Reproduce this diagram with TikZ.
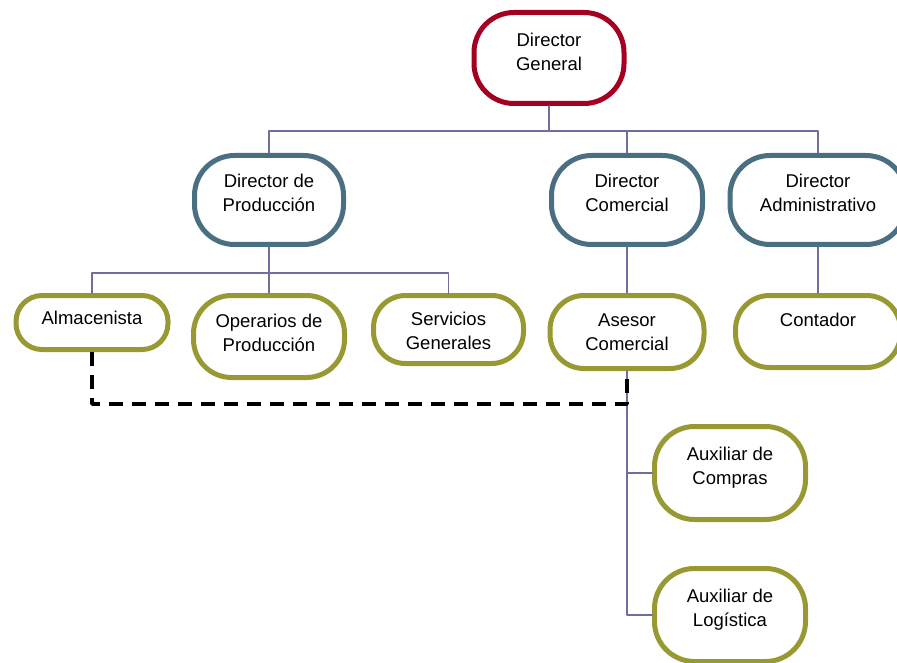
\documentclass[tikz,border=0pt]{standalone}
\usepackage{fontspec}
\setmainfont{Liberation Sans}

\definecolor{topred}{RGB}{165,0,33}
\definecolor{dirblue}{RGB}{74,110,130}
\definecolor{staffolive}{RGB}{153,153,51}
\definecolor{linkblue}{RGB}{110,110,160}

% texto de caja, subido un poco sobre el centro
\newcommand{\boxtext}[2][4]{\raisebox{#1pt}[\height][\depth]{\begin{tabular}{@{}c@{}}#2\end{tabular}}}

\begin{document}
\begin{tikzpicture}[line cap=round,line join=round,x=1pt,y=-1pt,
		box/.style={fill=white, line width=5pt, inner sep=0pt, font=\fontsize{18.5}{24}\selectfont},
		topbox/.style={box, draw=topred, rounded corners=40pt},
		dirbox/.style={box, draw=dirblue, rounded corners=40pt},
		staffbox/.style={box, draw=staffolive, rounded corners=34pt},
		link/.style={draw=linkblue, line width=1.6pt},
		dashlink/.style={draw=black, line width=3.5pt, line cap=butt, dash pattern=on 14pt off 9pt}]
		\useasboundingbox (0,0) rectangle (897,663);
		% direccion general
		\node[topbox, minimum width=150pt, minimum height=91pt] (dg) at (549,58) {\boxtext{Director\\General}};
		% directores
		\node[dirbox, minimum width=149pt, minimum height=89pt] (dp) at (269,200) {\boxtext[5]{Director de\\Producción}};
		\node[dirbox, minimum width=151pt, minimum height=89pt] (dc) at (627,200) {\boxtext[5]{Director\\Comercial}};
		\node[dirbox, minimum width=176pt, minimum height=89pt] (da) at (818,200) {\boxtext[5]{Director\\Administrativo}};
		% personal
		\node[staffbox, rounded corners=26pt, minimum width=152pt, minimum height=54pt] (alm) at (92,322.5) {\boxtext[3]{Almacenista}};
		\node[staffbox, rounded corners=38pt, minimum width=151pt, minimum height=82pt] (ope) at (269,336.5) {\boxtext[1.5]{Operarios de\\Producción}};
		\node[staffbox, rounded corners=32pt, minimum width=150pt, minimum height=68pt] (ser) at (448.5,329.5) {\boxtext[-3]{Servicios\\Generales}};
		\node[staffbox, minimum width=154pt, minimum height=73pt] (ac) at (627,332) {\boxtext[-2]{Asesor\\Comercial}};
		\node[staffbox, minimum width=165pt, minimum height=72pt] (co) at (818,331.5) {\boxtext[10]{Contador}};
		\node[staffbox, rounded corners=40pt, minimum width=151pt, minimum height=93pt] (axc) at (730,473) {\boxtext[5.5]{Auxiliar de\\Compras}};
		\node[staffbox, rounded corners=40pt, minimum width=151pt, minimum height=93pt] (axl) at (730,615) {\boxtext[5.5]{Auxiliar de\\Logística}};
		% barras de conexion
		\coordinate (busA) at (549,131);
		\coordinate (busB) at (269,273);
		\coordinate (dashcorner) at (92,404);
		\draw[link] (dg.south) -- (busA) -| (dp.north);
		\draw[link] (busA) -| (dc.north);
		\draw[link] (busA) -| (da.north);
		\draw[link] (dp.south) -- (busB) -| (alm.north);
		\draw[link] (busB) -- (ope.north);
		\draw[link] (busB) -| (ser.north);
		\draw[link] (dc.south) -- (ac.north);
		\draw[link] (da.south) -- (co.north);
		\draw[link] (ac.south) |- (axc.west);
		\draw[link] (ac.south) |- (axl.west);
		% linea punteada
		\draw[dashlink] (alm.south) -- (dashcorner) -| (ac.south);
\end{tikzpicture}
\end{document}
